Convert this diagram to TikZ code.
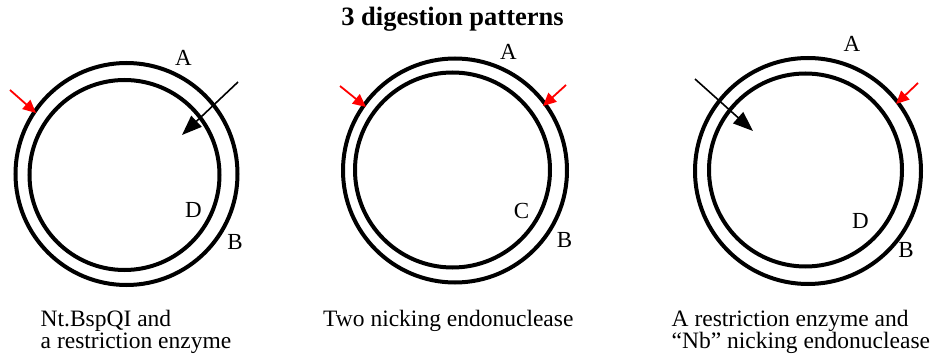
\documentclass[tikz,border=0pt]{standalone}
\usepackage{fontspec}
\setmainfont{Liberation Serif}
\usetikzlibrary{arrows.meta}
\begin{document}
\begin{tikzpicture}[x=1pt,y=-1pt,
  ring/.style={circle,draw,line width=4pt,inner sep=0pt},
  lbl/.style={inner sep=0pt,font=\fontsize{23}{23}\selectfont},
  captext/.style={anchor=base west,inner sep=0pt,align=left,font=\fontsize{23.5}{22.5}\selectfont},
  redarr/.style={draw=red,line width=1.8pt,-{Triangle[length=13pt,width=12pt]}},
  blkarr/.style={draw=black,line width=1.6pt,-{Triangle[length=20pt,width=15pt]}}]
\useasboundingbox (0,0) rectangle (935,358);
\node[inner sep=0pt,font=\fontsize{26.5}{26.5}\selectfont\bfseries] (title) at (452.5,19.5) {3 digestion patterns};
% circle 1
\node[ring,minimum size=222pt] (o1) at (126.5,174) {};
\node[ring,minimum size=190pt] (i1) at (124.5,175) {};
\node[lbl] (a1) at (183.5,57.5) {A};
\node[lbl] (d1) at (193.5,210) {D};
\node[lbl] (b1) at (235,242) {B};
\coordinate (r1s) at (10,90); \coordinate (r1e) at (36,113);
\coordinate (k1s) at (238,82); \coordinate (k1e) at (182,135);
\draw[redarr] (r1s) -- (r1e);
\draw[blkarr] (k1s) -- (k1e);
% circle 2
\node[ring,minimum size=224pt] (o2) at (455,170.5) {};
\node[ring,minimum size=195pt] (i2) at (452.5,170) {};
\node[lbl] (a2) at (508.5,52) {A};
\node[lbl] (c2) at (521.5,210.5) {C};
\node[lbl] (b2) at (564.5,240.5) {B};
\coordinate (r2s) at (340,86); \coordinate (r2e) at (366,107);
\coordinate (r3s) at (566,85); \coordinate (r3e) at (543,106);
\draw[redarr] (r2s) -- (r2e);
\draw[redarr] (r3s) -- (r3e);
% circle 3
\node[ring,minimum size=226pt] (o3) at (808,171) {};
\node[ring,minimum size=193pt] (i3) at (805.5,170) {};
\node[lbl] (a3) at (852,44) {A};
\node[lbl] (d3) at (860.5,220.5) {D};
\node[lbl] (b3) at (906,250.5) {B};
\coordinate (r4s) at (918,83); \coordinate (r4e) at (896,104);
\coordinate (k3s) at (695,79); \coordinate (k3e) at (753,131);
\draw[redarr] (r4s) -- (r4e);
\draw[blkarr] (k3s) -- (k3e);
% captions
\node[captext] (cap1) at (40.5,348.7) {Nt.BspQI and\\a restriction enzyme};
\node[captext] (cap2) at (323,326.5) {Two nicking endonuclease};
\node[captext] (cap3) at (671.5,348.7) {A restriction enzyme and\\“Nb” nicking endonuclease};
\end{tikzpicture}
\end{document}
